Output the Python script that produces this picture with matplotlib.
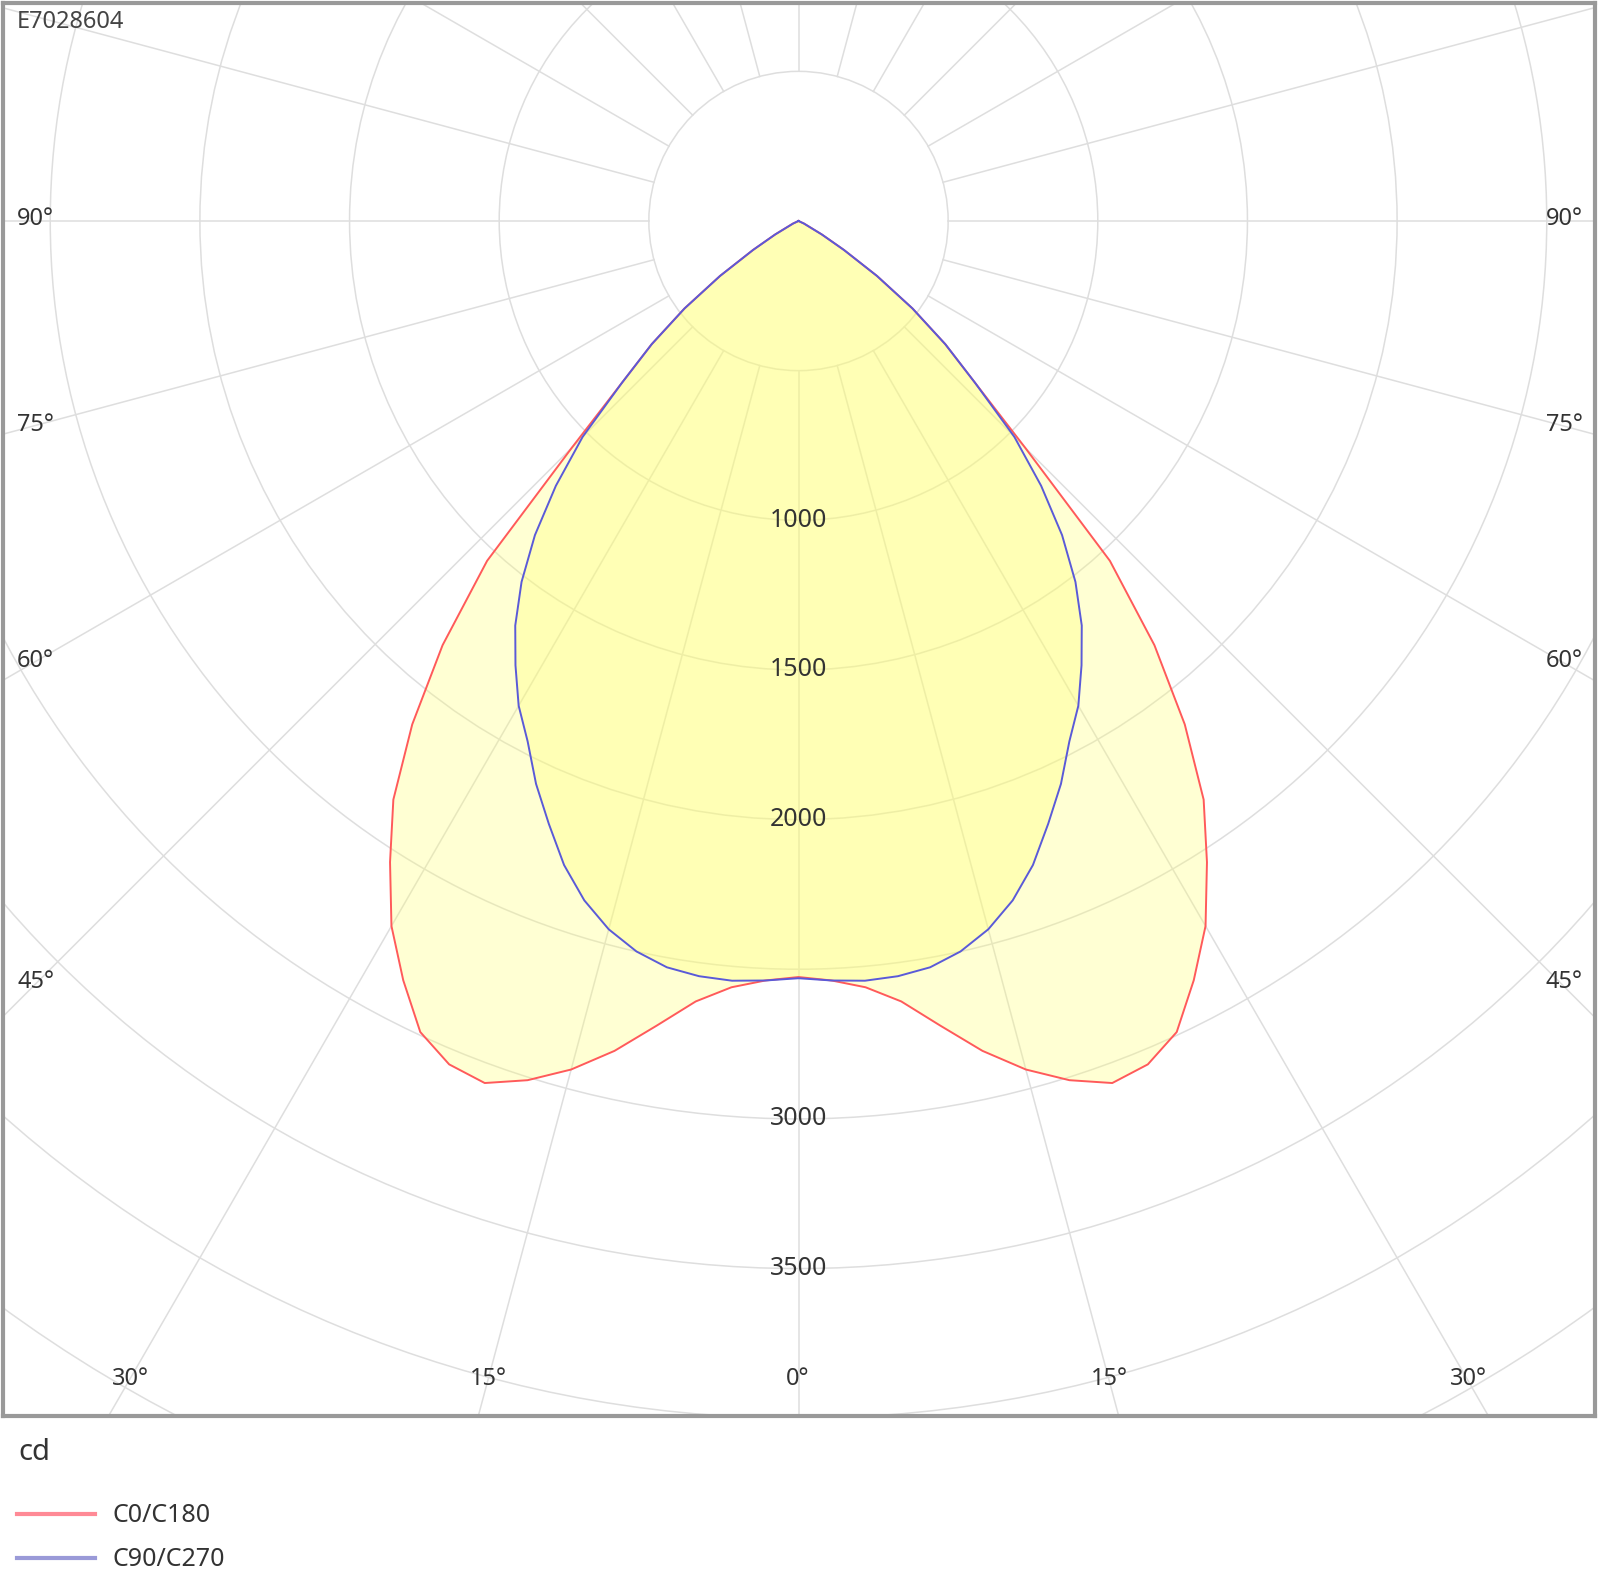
import numpy as np
import matplotlib
matplotlib.use('Agg')
import matplotlib.pyplot as plt
from matplotlib.patches import Circle

plt.rcParams['font.family'] = ['Noto Sans', 'DejaVu Sans']

# --- Data (cd, symmetric about 0 deg) ---
gamma = [0, 2.5, 5, 7.5, 10, 12.5, 15, 17.5, 20, 22.5, 25, 27.5, 30, 32.5, 35,
         37.5, 40, 42.5, 45, 47.5, 50, 52.5, 55, 57.5, 60, 65, 70, 75, 80, 85, 90]
c0_c180 = [2526, 2540, 2570, 2630, 2730, 2840, 2935, 3010, 3065, 3050, 2990, 2860,
           2720, 2540, 2360, 2120, 1850, 1540, 1070, 800, 640, 480, 320, 180, 90,
           20, 0, 0, 0, 0, 0]
c90_c270 = [2530, 2540, 2548, 2545, 2532, 2500, 2450, 2380, 2290, 2180, 2075, 1960,
            1870, 1760, 1650, 1520, 1370, 1200, 1020, 800, 640, 480, 320, 180, 90,
            20, 0, 0, 0, 0, 0]
ring_labels = [1000, 1500, 2000, 3000, 3500]
rings = np.arange(500, 5001, 500)
spoke_angles = np.arange(0, 360, 15)
side_labels = ['90°', '75°', '60°', '45°']
bottom_labels = ['30°', '15°', '0°', '15°', '30°']
series_names = ['C0/C180', 'C90/C270']
line_colors = ['#ff5a5a', '#5a5ad8']
legend_colors = ['#ff8a96', '#9a9ad8']
title = 'E7028604'

W, H = 1599, 1582
fig = plt.figure(figsize=(W / 100, H / 100), dpi=100)

# axes box in pixels
left, right, top, bottom = 3, 1595, 3, 1416
cx, cy, scale = 798.5, 221, 0.2993  # centre px, px per cd
ax = fig.add_axes([left / W, (H - bottom) / H, (right - left) / W, (bottom - top) / H])
ax.set_xlim((left - cx) / scale, (right - cx) / scale)
ax.set_ylim(-(bottom - cy) / scale, (cy - top) / scale)
ax.set_xticks([])
ax.set_yticks([])
for s in ax.spines.values():
    s.set_color('#999999')
    s.set_linewidth(3)

grid = '#dedede'
for r in rings:
    ax.add_patch(Circle((0, 0), r, fill=False, ec=grid, lw=1.1, zorder=1))
for a in np.radians(spoke_angles):
    ax.plot([500 * np.sin(a), 8000 * np.sin(a)], [-500 * np.cos(a), -8000 * np.cos(a)],
            color=grid, lw=1.1, zorder=1)

g = np.array(gamma, dtype=float)
g_full = np.radians(np.concatenate([-g[::-1], g[1:]]))
for vals, col in zip([c0_c180, c90_c270], line_colors):
    v = np.array(vals, dtype=float)
    v_full = np.concatenate([v[::-1], v[1:]])
    x = v_full * np.sin(g_full)
    y = -v_full * np.cos(g_full)
    ax.fill(x, y, color='#ffff70', alpha=0.3, lw=0, zorder=2)
    ax.plot(x, y, color=col, lw=1.4, zorder=3)

txt = '#333333'
for r in ring_labels:
    ax.text(0, -r, str(r), ha='center', va='center', fontsize=18, color=txt, zorder=4)

def px(x, y):
    return x / W, 1 - y / H

fig.text(*px(17, 22), title, ha='left', va='center', fontsize=17, color='#444444')
for lab, yy in zip(side_labels, [219, 425, 661, 982]):
    fig.text(*px(17, yy), lab, ha='left', va='center', fontsize=17, color=txt)
    fig.text(*px(1583, yy), lab, ha='right', va='center', fontsize=17, color=txt)
for lab, xx in zip(bottom_labels, [130, 488, 798, 1109, 1468]):
    fig.text(*px(xx, 1379), lab, ha='center', va='center', fontsize=17, color=txt)

fig.text(*px(18, 1460), 'cd', ha='left', va='baseline', fontsize=21, color=txt)
for name, col, yy in zip(series_names, legend_colors, [1514, 1558]):
    fig.add_artist(plt.Line2D([17 / W, 95 / W], [1 - yy / H, 1 - yy / H], color=col, lw=3))
    fig.text(*px(113, yy + 2), name, ha='left', va='center', fontsize=18, color=txt)

fig.savefig('out.png', dpi=100)
